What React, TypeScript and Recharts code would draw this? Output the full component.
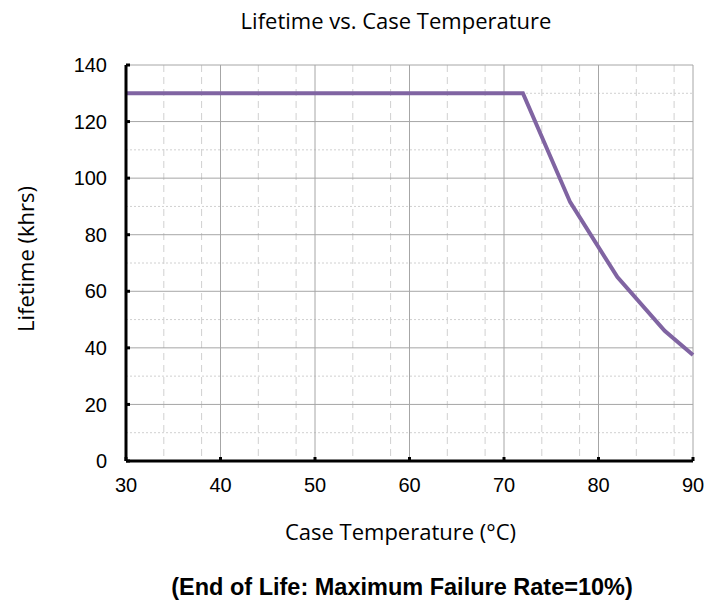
import { CartesianGrid, Line, LineChart, XAxis, YAxis } from "recharts";

// case temperature (°C) and lifetime (khrs)
const caseTemp = [30, 72, 77, 82, 87, 90];
const lifetime = [130, 130, 91.5, 65, 46, 37.5];

const xTicks = [30, 40, 50, 60, 70, 80, 90];
const yTicks = [0, 20, 40, 60, 80, 100, 120, 140];
const xMinor = [32, 34, 36, 38, 42, 44, 46, 48, 52, 54, 56, 58, 62, 64, 66, 68, 72, 74, 76, 78, 82, 84, 86, 88];
const yMinor = [10, 30, 50, 70, 90, 110, 130];

const data = caseTemp.map((t, i) => ({ temp: t, life: lifetime[i] }));

const tickStyle = { fontSize: 20, fill: "#000", fontFamily: "'Liberation Sans', Arial, sans-serif" };
const labelFont = "'Open Sans', sans-serif";

export default function App() {
  return (
    <div style={{ position: "absolute", left: 0, top: 0, width: 706, height: 604, background: "#fff" }}>
      <div
        style={{
          position: "absolute",
          left: 396,
          top: 20,
          transform: "translate(-50%, -50%)",
          whiteSpace: "nowrap",
          fontFamily: labelFont,
          fontSize: 22,
          lineHeight: "30px",
          color: "#000",
        }}
      >
        Lifetime vs. Case Temperature
      </div>
      <LineChart width={706} height={604} data={data} margin={{ top: 65, right: 13, bottom: 0, left: 0 }}>
        <CartesianGrid
          horizontal={false}
          verticalValues={xMinor}
          stroke="#d0d0d0"
          strokeDasharray="7 5"
        />
        <CartesianGrid
          vertical={false}
          horizontalValues={yMinor}
          stroke="#d0d0d0"
          strokeDasharray="2 2"
        />
        <CartesianGrid verticalValues={xTicks} horizontalValues={yTicks} stroke="#a6a6a6" />
        <XAxis
          dataKey="temp"
          type="number"
          domain={[30, 90]}
          ticks={xTicks}
          height={143}
          axisLine={{ stroke: "#000", strokeWidth: 3 }}
          tickLine={{ stroke: "#000", strokeWidth: 3 }}
          tickSize={-4}
          tickMargin={21}
          tick={tickStyle}
          label={{
            value: "Case Temperature (°C)",
            position: "center",
            dx: -9,
            fontSize: 22,
            fontFamily: labelFont,
            fill: "#000",
          }}
        />
        <YAxis
          type="number"
          domain={[0, 140]}
          ticks={yTicks}
          width={126}
          axisLine={{ stroke: "#000", strokeWidth: 3 }}
          tickLine={{ stroke: "#000", strokeWidth: 3 }}
          tickSize={-4}
          tickMargin={23}
          tick={tickStyle}
          label={{
            value: "Lifetime (khrs)",
            position: "center",
            angle: -90,
            dx: -37,
            dy: -4,
            fontSize: 22,
            fontFamily: labelFont,
            fill: "#000",
          }}
        />
        <Line
          dataKey="life"
          type="linear"
          stroke="#8064a2"
          strokeWidth={4}
          dot={false}
          isAnimationActive={false}
        />
      </LineChart>
      <div
        style={{
          position: "absolute",
          left: 402,
          top: 587,
          transform: "translate(-50%, -50%)",
          whiteSpace: "nowrap",
          fontFamily: "'Liberation Sans', Arial, sans-serif",
          fontWeight: "bold",
          fontSize: 23.5,
          lineHeight: "28px",
          color: "#000",
        }}
      >
        (End of Life: Maximum Failure Rate=10%)
      </div>
    </div>
  );
}
